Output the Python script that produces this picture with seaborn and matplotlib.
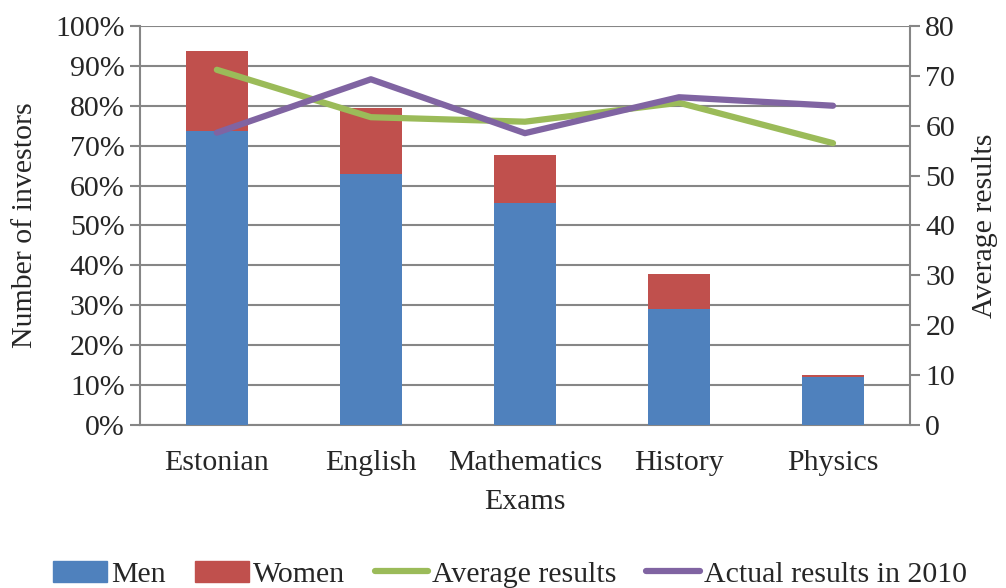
import matplotlib
matplotlib.use("Agg")
import matplotlib.pyplot as plt
import seaborn as sns
import pandas as pd
import numpy as np
from matplotlib.patches import Patch
from matplotlib.lines import Line2D
from matplotlib.ticker import PercentFormatter

exams = ["Estonian", "English", "Mathematics", "History", "Physics"]
men = [73.7, 62.9, 55.7, 29.1, 12.0]
women = [20.1, 16.5, 12.0, 8.7, 0.5]
avg_results = [71.2, 61.7, 60.8, 64.6, 56.5]
actual_2010 = [58.6, 69.3, 58.5, 65.7, 64.0]

BLUE = "#4F81BD"
RED = "#C0504D"
GREEN = "#9BBB59"
PURPLE = "#8064A2"
GRID = "#868686"
FS = 21.5

sns.set_style("white")
plt.rcParams["font.family"] = ["Liberation Serif", "DejaVu Serif"]
plt.rcParams["font.size"] = FS

df = pd.DataFrame({"exam": exams, "men": men, "women": women,
                   "avg": avg_results, "actual": actual_2010})
df["total"] = df["men"] + df["women"]
df["pos"] = np.arange(len(df))

fig = plt.figure(figsize=(10.06, 5.88), dpi=100)
ax = fig.add_axes([0.139, 0.277, 0.7656, 0.679])

# stacked bars: total (red) first, men (blue) on top
sns.barplot(data=df, x="exam", y="total", color=RED, width=0.4,
            saturation=1, linewidth=0, ax=ax, zorder=3)
sns.barplot(data=df, x="exam", y="men", color=BLUE, width=0.4,
            saturation=1, linewidth=0, ax=ax, zorder=3)

ax.set_ylim(0, 100)
ax.set_yticks(np.arange(0, 101, 10))
ax.yaxis.set_major_formatter(PercentFormatter(decimals=0))
ax.set_xlim(-0.5, len(exams) - 0.5)
ax.grid(axis="y", color=GRID, linewidth=1.5, zorder=0)
ax.set_axisbelow(True)
ax.set_xlabel("Exams", fontsize=FS, labelpad=9)
ax.set_ylabel("Number of investors", fontsize=FS, labelpad=12)

ax.set_xticks(np.arange(-0.5, len(exams), 1.0), minor=True)
ax.tick_params(axis="x", which="major", length=0, pad=18)
ax.tick_params(axis="x", which="minor", length=7, color=GRID, width=1.5)
ax.tick_params(axis="y", length=7, color=GRID, width=1.5, pad=4)

for side in ["top", "right"]:
    ax.spines[side].set_visible(False)
for side in ["left", "bottom"]:
    ax.spines[side].set_color(GRID)
    ax.spines[side].set_linewidth(1.5)

ax2 = ax.twinx()
sns.lineplot(data=df, x="pos", y="avg", color=GREEN, linewidth=4.5,
             ax=ax2, zorder=4)
sns.lineplot(data=df, x="pos", y="actual", color=PURPLE, linewidth=4.5,
             ax=ax2, zorder=4)
ax2.set_ylim(0, 80)
ax2.set_yticks(np.arange(0, 81, 10))
ax2.set_xlim(-0.5, len(exams) - 0.5)
ax2.set_ylabel("Average results", fontsize=FS, labelpad=12)
ax2.tick_params(axis="y", length=7, color=GRID, width=1.5, pad=4)
for side in ["top", "left", "bottom"]:
    ax2.spines[side].set_visible(False)
ax2.spines["right"].set_color(GRID)
ax2.spines["right"].set_linewidth(1.5)

handles = [Patch(color=BLUE), Patch(color=RED),
           Line2D([], [], color=GREEN, linewidth=4.5),
           Line2D([], [], color=PURPLE, linewidth=4.5)]
labels = ["Men", "Women", "Average results", "Actual results in 2010"]
fig.legend(handles, labels, loc="lower center", ncol=4, frameon=False,
           bbox_to_anchor=(0.507, -0.045), fontsize=FS, handlelength=1.8,
           handletextpad=0.12, columnspacing=1.0)

fig.savefig("out.png", dpi=100)
